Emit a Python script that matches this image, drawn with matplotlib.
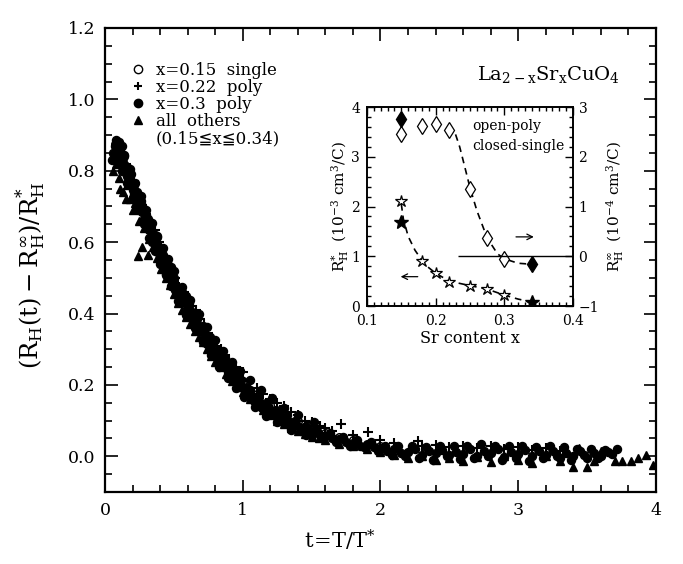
import matplotlib
matplotlib.use('Agg')
import matplotlib.pyplot as plt
from matplotlib.lines import Line2D
from matplotlib.ticker import MultipleLocator

plt.rcParams['font.family'] = ['DejaVu Serif', 'DejaVu Sans']
plt.rcParams['mathtext.fontset'] = 'dejavuserif'

# main panel: scaled Hall coefficient vs reduced temperature
# x=0.3 poly (filled dots)
dot_t = [0.07, 0.08, 0.08, 0.09, 0.10, 0.11, 0.12, 0.13, 0.14, 0.15, 0.16, 0.17, 0.18, 0.19,
         0.20, 0.21, 0.22, 0.23, 0.24, 0.25, 0.26, 0.27, 0.28, 0.29, 0.30, 0.31, 0.32, 0.33,
         0.34, 0.35, 0.36, 0.37, 0.38, 0.39, 0.40, 0.41, 0.42, 0.43, 0.44, 0.45, 0.46, 0.47,
         0.48, 0.49, 0.50, 0.52, 0.53, 0.55, 0.56, 0.58, 0.60, 0.61, 0.63, 0.65, 0.66, 0.68,
         0.70, 0.71, 0.73, 0.75, 0.76, 0.78, 0.80, 0.82, 0.84, 0.86, 0.88, 0.90, 0.92, 0.94,
         0.96, 0.98, 1.00, 1.03, 1.06, 1.09, 1.12, 1.15, 1.18, 1.21, 1.24, 1.27, 1.30, 1.33,
         1.36, 1.40, 1.44, 1.48, 1.52, 1.56, 1.60, 1.65, 1.70, 1.75, 1.80, 1.85, 1.90, 1.95,
         2.00, 2.05, 2.10, 2.15, 2.20, 2.25, 2.30, 2.35, 2.40, 2.45, 2.50, 2.55, 2.60, 2.65,
         2.70, 2.75, 2.80, 2.85, 2.90, 2.95, 3.00, 3.05, 3.10, 3.15, 3.20, 3.25, 3.30, 3.35,
         3.40, 3.45, 3.50, 3.55, 3.60, 3.65,
         0.05, 0.06, 0.07, 0.09, 0.11, 0.12, 0.14, 0.16, 0.18, 0.19, 0.21, 0.23, 0.25, 0.27,
         0.28, 0.30, 0.32, 0.34, 0.36, 0.38, 0.40, 0.42, 0.44, 0.46, 0.48, 0.50, 0.51, 0.54,
         0.57, 0.59, 0.62, 0.64, 0.67, 0.69, 0.72, 0.74, 0.77, 0.79, 0.81, 0.83, 0.85, 0.87,
         0.89, 0.91, 0.93, 0.95, 0.97, 0.99, 1.02, 1.05, 1.08, 1.11, 1.14, 1.17, 1.20, 1.23,
         1.26, 1.29, 1.32, 1.35, 1.38, 1.42, 1.46, 1.50, 1.54, 1.58, 1.63, 1.68, 1.73, 1.78,
         1.83, 1.88, 1.93, 1.98, 2.03, 2.08, 2.13, 2.18, 2.23, 2.28, 2.33, 2.38, 2.43, 2.48,
         2.53, 2.58, 2.63, 2.68, 2.73, 2.78, 2.83, 2.88, 2.93, 2.98, 3.03, 3.08, 3.13, 3.18,
         3.23, 3.28, 3.33, 3.38, 3.43, 3.48, 3.53, 3.58, 3.63, 3.68, 3.72,
         0.10, 0.12, 0.14, 0.16, 0.18, 0.20, 0.22, 0.24, 0.26, 0.28, 0.30, 0.32, 0.34, 0.36,
         0.38, 0.40, 0.42, 0.44, 0.46, 0.48, 0.50, 0.53, 0.56, 0.59, 0.62, 0.65, 0.68, 0.71,
         0.74, 0.77, 0.80, 0.83, 0.86, 0.89, 0.92, 0.95, 0.98, 1.01, 1.05, 1.09, 1.13, 1.17,
         1.21, 1.25, 1.30, 1.35, 1.40, 1.46, 1.52]
dot_r = [0.870, 0.885, 0.860, 0.875, 0.845, 0.860, 0.830, 0.835, 0.815, 0.795, 0.810, 0.780,
         0.790, 0.765, 0.745, 0.760, 0.730, 0.740, 0.715, 0.700, 0.715, 0.685, 0.690, 0.665,
         0.650, 0.665, 0.635, 0.645, 0.620, 0.605, 0.620, 0.590, 0.595, 0.570, 0.560, 0.575,
         0.545, 0.550, 0.530, 0.520, 0.535, 0.505, 0.510, 0.490, 0.480, 0.475, 0.455, 0.445,
         0.460, 0.430, 0.415, 0.430, 0.395, 0.385, 0.400, 0.365, 0.350, 0.365, 0.335, 0.320,
         0.335, 0.300, 0.290, 0.295, 0.270, 0.265, 0.250, 0.240, 0.245, 0.220, 0.215, 0.200,
         0.195, 0.190, 0.170, 0.165, 0.155, 0.145, 0.140, 0.125, 0.130, 0.110, 0.105, 0.100,
         0.090, 0.085, 0.080, 0.070, 0.075, 0.060, 0.058, 0.050, 0.048, 0.040, 0.038, 0.030,
         0.032, 0.025, 0.022, 0.015, 0.020, 0.010, 0.012, 0.020, 0.005, 0.015, 0.008, 0.018,
         0.003, 0.012, 0.006, 0.020, 0.000, 0.014, 0.008, 0.020, -0.002, 0.012, 0.006, 0.018,
         0.000, 0.015, 0.004, 0.016, -0.004, 0.010, 0.002, 0.014, -0.006, 0.008, 0.000, 0.012,
         0.830, 0.850, 0.845, 0.830, 0.825, 0.870, 0.840, 0.785, 0.765, 0.790, 0.735, 0.715,
         0.725, 0.700, 0.665, 0.675, 0.655, 0.600, 0.595, 0.615, 0.580, 0.565, 0.510, 0.510,
         0.530, 0.500, 0.465, 0.470, 0.435, 0.450, 0.410, 0.380, 0.385, 0.355, 0.345, 0.315,
         0.320, 0.290, 0.275, 0.290, 0.255, 0.275, 0.235, 0.255, 0.230, 0.235, 0.205, 0.215,
         0.180, 0.185, 0.155, 0.170, 0.135, 0.150, 0.130, 0.115, 0.125, 0.095, 0.115, 0.080,
         0.100, 0.070, 0.085, 0.060, 0.070, 0.050, 0.065, 0.040, 0.055, 0.030, 0.045, 0.025,
         0.040, 0.015, 0.030, 0.005, 0.028, 0.000, 0.030, -0.005, 0.025, -0.010, 0.030, 0.000,
         0.028, -0.008, 0.030, -0.004, 0.035, 0.000, 0.030, -0.010, 0.028, -0.004, 0.030, -0.012,
         0.025, -0.006, 0.030, 0.000, 0.025, -0.010, 0.020, 0.004, 0.020, -0.004, 0.018, 0.006,
         0.020,
         0.880, 0.800, 0.845, 0.765, 0.805, 0.725, 0.767, 0.689, 0.730, 0.650, 0.690, 0.612,
         0.654, 0.576, 0.618, 0.540, 0.584, 0.508, 0.552, 0.476, 0.520, 0.436, 0.474, 0.396,
         0.438, 0.360, 0.399, 0.319, 0.361, 0.283, 0.325, 0.250, 0.295, 0.220, 0.265, 0.190,
         0.238, 0.167, 0.213, 0.139, 0.185, 0.114, 0.162, 0.097, 0.135, 0.075, 0.115, 0.060,
         0.095]

# x=0.22 poly (plus signs)
plus_t = [0.09, 0.12, 0.15, 0.18, 0.21, 0.24, 0.27, 0.30, 0.33, 0.36, 0.39, 0.42, 0.45, 0.48,
          0.51, 0.54, 0.57, 0.60, 0.63, 0.66, 0.69, 0.72, 0.75, 0.78, 0.81, 0.84, 0.87, 0.90,
          0.95, 1.00, 1.05, 1.10, 1.15, 1.20, 1.25, 1.30, 1.35, 1.40, 1.45, 1.50, 1.56, 1.60,
          1.65, 1.71, 1.80, 1.91, 2.00, 2.10, 2.27, 2.30, 2.40, 2.50, 2.60, 2.70, 2.80, 2.90,
          3.00, 3.10, 3.20, 3.30]
plus_r = [0.870, 0.850, 0.820, 0.800, 0.770, 0.730, 0.705, 0.680, 0.655, 0.635, 0.600, 0.580,
          0.545, 0.525, 0.500, 0.475, 0.460, 0.440, 0.420, 0.410, 0.385, 0.370, 0.345, 0.330,
          0.310, 0.300, 0.285, 0.270, 0.250, 0.235, 0.210, 0.190, 0.175, 0.160, 0.150, 0.140,
          0.125, 0.115, 0.100, 0.095, 0.085, 0.080, 0.070, 0.090, 0.060, 0.067, 0.045, 0.038,
          0.042, 0.030, 0.032, 0.025, 0.030, 0.022, 0.028, 0.020, 0.025, 0.018, 0.022, 0.015]

# all others (triangles)
tri_t = [0.06, 0.08, 0.10, 0.11, 0.13, 0.15, 0.16, 0.18, 0.20, 0.22, 0.24, 0.25, 0.27, 0.28,
         0.31, 0.32, 0.35, 0.38, 0.41, 0.44, 0.47, 0.50, 0.53, 0.56, 0.59, 0.62, 0.65, 0.68,
         0.71, 0.74, 0.77, 0.80, 0.84, 0.88, 0.92, 0.96, 1.00, 1.05, 1.10, 1.15, 1.20, 1.25,
         1.30, 1.35, 1.40, 1.45, 1.50, 1.55, 1.60, 1.70, 1.80, 1.90, 2.00, 2.10, 2.20, 2.30,
         2.40, 2.50, 2.60, 2.70, 2.80, 2.90, 3.00, 3.10, 3.20, 3.30, 3.40, 3.44, 3.50, 3.55,
         3.60, 3.70, 3.75, 3.82, 3.87, 3.93, 3.98]
tri_r = [0.800, 0.820, 0.780, 0.750, 0.740, 0.720, 0.760, 0.720, 0.690, 0.710, 0.560, 0.660,
         0.585, 0.640, 0.565, 0.610, 0.585, 0.555, 0.525, 0.500, 0.480, 0.455, 0.430, 0.410,
         0.390, 0.370, 0.350, 0.335, 0.320, 0.300, 0.280, 0.265, 0.250, 0.230, 0.210, 0.195,
         0.180, 0.160, 0.145, 0.130, 0.115, 0.100, 0.090, 0.080, 0.070, 0.062, 0.055, 0.050,
         0.045, 0.035, 0.028, 0.020, 0.012, 0.005, -0.005, 0.000, -0.010, -0.004, -0.012, -0.002,
         -0.015, 0.002, -0.010, -0.020, 0.000, -0.012, -0.030, 0.022, -0.030, -0.014, 0.014,
         -0.014, -0.014, -0.014, -0.006, 0.003, -0.025]

# x=0.15 single (open circles)
circ_t = [0.07, 0.10, 0.14, 0.18, 0.22, 0.26, 0.30, 0.35, 0.40, 0.45, 0.50, 0.55, 0.60, 0.65,
          0.70, 0.75, 0.80, 0.85, 0.90, 0.95, 1.00, 1.10, 1.20, 1.30, 1.40, 1.50, 1.60, 1.70,
          1.80, 1.90, 2.00]
circ_r = [0.875, 0.865, 0.820, 0.775, 0.740, 0.700, 0.660, 0.615, 0.570, 0.535, 0.490, 0.455,
          0.420, 0.390, 0.360, 0.330, 0.300, 0.275, 0.250, 0.230, 0.210, 0.175, 0.145, 0.120,
          0.100, 0.080, 0.065, 0.055, 0.045, 0.035, 0.030]

# inset: Sr content dependence
x_star_open = [0.15, 0.18, 0.20, 0.22, 0.25, 0.275, 0.30]
rh_star_open = [2.12, 0.90, 0.66, 0.49, 0.41, 0.35, 0.22]
x_star_fill = [0.15, 0.34]
rh_star_fill = [1.68, 0.08]
star_guide_x = [0.15, 0.153, 0.16, 0.17, 0.18, 0.19, 0.20, 0.22, 0.25, 0.275, 0.30, 0.32, 0.34]
star_guide_y = [2.05, 1.75, 1.40, 1.12, 0.92, 0.77, 0.66, 0.50, 0.41, 0.34, 0.22, 0.14, 0.08]

x_dia_open = [0.15, 0.18, 0.20, 0.22, 0.25, 0.275, 0.30]
rh_inf_open = [2.45, 2.62, 2.66, 2.54, 1.35, 0.37, -0.06]
x_dia_fill = [0.15, 0.34]
rh_inf_fill = [2.76, -0.16]
dia_guide_x = [0.229, 0.235, 0.24, 0.25, 0.26, 0.275, 0.29, 0.30, 0.32, 0.34]
dia_guide_y = [2.45, 2.20, 1.93, 1.38, 0.92, 0.37, 0.05, -0.05, -0.14, -0.16]

fig = plt.figure(figsize=(6.83, 5.64), dpi=100)
ax = fig.add_axes([0.1537, 0.1277, 0.8068, 0.8227])

ax.plot(circ_t, circ_r, 'o', ms=5.5, mfc='white', mec='black', mew=1.0, ls='none',
        label='x=0.15  single')
ax.plot(plus_t, plus_r, '+', ms=7, mec='black', mew=1.5, ls='none', label='x=0.22  poly')
ax.plot(dot_t, dot_r, 'o', ms=5.8, color='black', ls='none', label='x=0.3  poly')
ax.plot(tri_t, tri_r, '^', ms=5.2, color='black', ls='none', label='all  others')

handles, labels = ax.get_legend_handles_labels()
handles.append(Line2D([], [], ls='none'))
labels.append('(0.15≦x≦0.34)')
leg = ax.legend(handles, labels, loc='upper left', bbox_to_anchor=(0.02, 0.952), frameon=False,
                fontsize=12, labelspacing=0.0, handletextpad=0.5, handlelength=1.2,
                borderaxespad=0.3)
for h in leg.legend_handles[:4]:
    h.set_markersize(6)

ax.text(0.935, 0.90, r'$\mathrm{La_{2-x}Sr_xCuO_4}$', transform=ax.transAxes,
        ha='right', va='center', fontsize=14)

ax.set_xlim(0, 4)
ax.set_ylim(-0.1, 1.2)
ax.xaxis.set_major_locator(MultipleLocator(1))
ax.xaxis.set_minor_locator(MultipleLocator(0.2))
ax.yaxis.set_minor_locator(MultipleLocator(0.05))
ax.set_yticks([0.0, 0.2, 0.4, 0.6, 0.8, 1.0, 1.2])
ax.set_yticklabels(['0.0', '0.2', '0.4', '0.6', '0.8', '1.0', '1.2'])
ax.tick_params(which='both', direction='in', top=True, right=True, labelsize=12.5, width=1.2)
ax.tick_params(which='major', length=9, pad=7)
ax.tick_params(which='minor', length=5)
for s in ax.spines.values():
    s.set_linewidth(1.6)
ax.set_xlabel(r'$\mathrm{t\!=\!T/T^{*}}$', fontsize=15)
ax.xaxis.set_label_coords(0.426, -0.078)
ax.set_ylabel(r'$\mathrm{(R_H(t)-R_H^{\infty})/R_H^{*}}$', fontsize=17.5)
ax.yaxis.set_label_coords(-0.103, 0.468)

# inset
axi = fig.add_axes([0.5373, 0.4574, 0.3016, 0.3528])
axr = axi.twinx()
axi.plot(star_guide_x, star_guide_y, '--', color='black', lw=1.2, dashes=(4, 3))
axi.plot(x_star_open, rh_star_open, '*', ms=9, mfc='white', mec='black', mew=0.9, ls='none')
axi.plot(x_star_fill, rh_star_fill, '*', ms=10, color='black', ls='none')
axr.plot(dia_guide_x, dia_guide_y, '--', color='black', lw=1.2, dashes=(4, 3))
axr.plot(x_dia_open, rh_inf_open, 'd', ms=8, mfc='white', mec='black', mew=0.9, ls='none')
axr.plot(x_dia_fill, rh_inf_fill, 'd', ms=8, color='black', ls='none')
axr.hlines(0, 0.232, 0.4, color='black', lw=1.0)

axi.annotate('', xy=(0.347, 1.39), xytext=(0.313, 1.39),
             arrowprops=dict(arrowstyle='->', lw=0.9, color='black'))
axi.annotate('', xy=(0.145, 0.59), xytext=(0.178, 0.59),
             arrowprops=dict(arrowstyle='->', lw=0.9, color='black'))
axi.text(0.253, 3.62, 'open-poly', fontsize=10, va='center')
axi.text(0.253, 3.22, 'closed-single', fontsize=10, va='center')

axi.set_xlim(0.1, 0.4)
axi.set_ylim(0, 4)
axr.set_ylim(-1, 3)
axi.xaxis.set_minor_locator(MultipleLocator(0.01))
axi.yaxis.set_major_locator(MultipleLocator(1))
axi.yaxis.set_minor_locator(MultipleLocator(0.2))
axr.yaxis.set_minor_locator(MultipleLocator(0.2))
axi.set_xticks([0.1, 0.2, 0.3, 0.4])
axi.set_xticklabels(['0.1', '0.2', '0.3', '0.4'])
axi.tick_params(which='both', direction='in', top=True, labelsize=10, width=1.0)
axi.tick_params(axis='x', which='major', length=6, pad=6)
axi.tick_params(axis='y', which='major', length=6, pad=5)
axi.tick_params(which='minor', length=3)
axr.tick_params(which='both', direction='in', labelsize=10, width=1.0)
axr.tick_params(which='major', length=6, pad=4)
axr.tick_params(which='minor', length=3)
axr.set_yticks([-1, 0, 1, 2, 3])
axr.set_yticklabels(['\u22121', '0', '1', '2', '3'])
for a in (axi, axr):
    for s in a.spines.values():
        s.set_linewidth(1.2)
axi.set_xlabel('Sr content x', fontsize=11.5, labelpad=1)
axi.set_ylabel(r'$\mathrm{R_H^{*}\ \ (10^{-3}\ cm^3/C)}$', fontsize=11, labelpad=0)
axr.set_ylabel(r'$\mathrm{R_H^{\infty}\ \ (10^{-4}\ cm^3/C)}$', fontsize=11, labelpad=4)

fig.savefig('out.png', dpi=100)
